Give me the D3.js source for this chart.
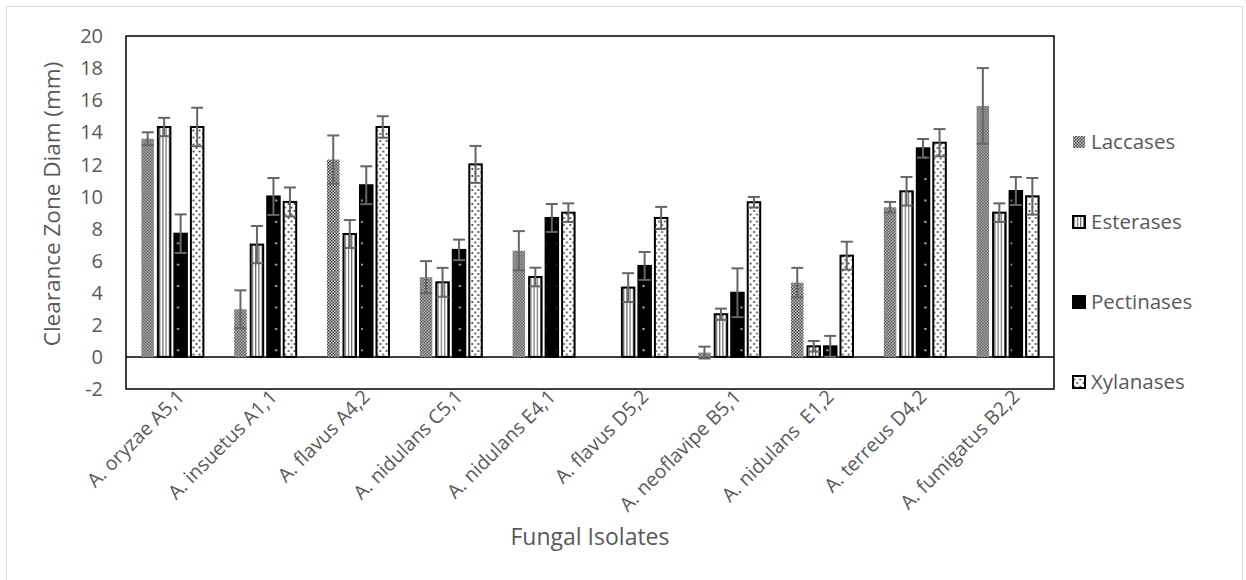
<!DOCTYPE html>
<html><head><meta charset="utf-8">
<script src="https://cdn.jsdelivr.net/npm/d3@7"></script>
<style>
html,body{margin:0;padding:0;background:#fff;}
text{font-family:"Open Sans",sans-serif;fill:#595959;}
</style></head>
<body>
<svg id="chart" width="1246" height="580"></svg>
<script>
const categories = ["A. oryzae A5,1","A. insuetus A1,1","A. flavus A4,2","A. nidulans C5,1","A. nidulans E4,1","A. flavus D5,2","A. neoflavipe B5,1","A. nidulans  E1,2","A. terreus D4,2","A. fumigatus B2,2"];
const seriesNames = ["Laccases","Esterases","Pectinases","Xylanases"];
const laccases   = [13.6, 2.97, 12.3, 4.97, 6.62, 0, 0.27, 4.63, 9.33, 15.64];
const esterases  = [14.33, 7.0, 7.66, 4.65, 4.98, 4.32, 2.66, 0.66, 10.32, 8.99];
const pectinases = [7.68, 10.0, 10.7, 6.67, 8.66, 5.67, 4.0, 0.66, 13.0, 10.34];
const xylanases  = [14.33, 9.66, 14.33, 12.0, 8.99, 8.66, 9.64, 6.31, 13.35, 10.01];
const errLaccases   = [0.4, 1.18, 1.5, 1.0, 1.22, 0, 0.37, 0.92, 0.33, 2.36];
const errEsterases  = [0.57, 1.16, 0.87, 0.9, 0.58, 0.9, 0.35, 0.33, 0.89, 0.58];
const errPectinases = [1.2, 1.15, 1.18, 0.64, 0.87, 0.87, 1.52, 0.65, 0.58, 0.87];
const errXylanases  = [1.2, 0.9, 0.67, 1.15, 0.58, 0.69, 0.33, 0.87, 0.85, 1.14];
const yTicks = [-2,0,2,4,6,8,10,12,14,16,18,20];

const values = [laccases, esterases, pectinases, xylanases];
const errors = [errLaccases, errEsterases, errPectinases, errXylanases];

const svg = d3.select("#chart");
const defs = svg.append("defs");

// chart area border
svg.append("rect").attr("x",6.5).attr("y",6.5).attr("width",1236).attr("height",580)
  .attr("fill","#fff").attr("stroke","#d9d9d9").attr("stroke-width",1);

const plot = {left:126, right:1054, top:36, bottom:389};
const y = d3.scaleLinear().domain([-2,20]).range([plot.bottom, plot.top]);
const x0 = d3.scaleBand().domain(categories).range([plot.left, plot.right]).padding(0);
const slot = 16.5;
const x1 = d3.scaleBand().domain(seriesNames).range([-2*slot, 2*slot]).padding(0);
const barW = 12.5;

// patterns
function lacPattern(id){
  const p = defs.append("pattern").attr("id",id).attr("patternUnits","userSpaceOnUse").attr("width",3).attr("height",3);
  p.append("rect").attr("width",3).attr("height",3).attr("fill","#c4c4c4");
  p.append("rect").attr("x",0).attr("y",0).attr("width",1.5).attr("height",1.5).attr("fill","#4a4a4a");
  p.append("rect").attr("x",1.5).attr("y",1.5).attr("width",1.5).attr("height",1.5).attr("fill","#4a4a4a");
}
lacPattern("lac");
function estPattern(id, x){
  const p = defs.append("pattern").attr("id",id).attr("patternUnits","userSpaceOnUse").attr("x",x).attr("width",3.2).attr("height",10);
  p.append("rect").attr("width",3.2).attr("height",10).attr("fill","#fff");
  p.append("rect").attr("x",1.6).attr("width",1.2).attr("height",10).attr("fill","#6e6e6e");
}
function pecPattern(id, x){
  const p = defs.append("pattern").attr("id",id).attr("patternUnits","userSpaceOnUse").attr("x",x).attr("y",plot.bottom-32+4).attr("width",barW).attr("height",21.4);
  p.append("rect").attr("width",barW).attr("height",21.4).attr("fill","#000");
  p.append("rect").attr("x",barW/2-1).attr("y",9.7).attr("width",2).attr("height",2).attr("fill","#bbb");
}
function xylPattern(id, x){
  const p = defs.append("pattern").attr("id",id).attr("patternUnits","userSpaceOnUse").attr("x",x).attr("width",barW).attr("height",7);
  p.append("rect").attr("width",barW).attr("height",7).attr("fill","#fff");
  [[2.2,1],[8.2,1],[5.2,4.5],[11.2,4.5]].forEach(([cx,cy])=>{
    p.append("rect").attr("x",cx-0.9).attr("y",cy-0.9).attr("width",1.8).attr("height",1.8).attr("fill","#444");
  });
}

// y tick labels
svg.append("g").selectAll("text").data(yTicks).join("text")
  .attr("x",103).attr("y",d=>y(d)).attr("dy","0.36em").attr("text-anchor","end")
  .style("font-size","20px").text(d=>d);

// zero line
svg.append("line").attr("x1",plot.left).attr("x2",plot.right).attr("y1",y(0)).attr("y2",y(0))
  .attr("stroke","#000").attr("stroke-width",1.5);

// bars
const groups = svg.append("g").selectAll("g").data(categories).join("g")
  .attr("transform",d=>`translate(${x0(d)+x0.bandwidth()/2},0)`);

groups.each(function(cat, ci){
  const g = d3.select(this);
  const cx = x0(cat)+x0.bandwidth()/2;
  seriesNames.forEach((s, si)=>{
    const v = values[si][ci];
    const bx = x1(s) + (slot-barW)/2;
    const absX = cx + bx;
    let fill;
    if (si===0) fill = "url(#lac)";
    else {
      const id = "p"+si+"_"+ci;
      if (si===1) estPattern(id, absX);
      if (si===2) pecPattern(id, absX);
      if (si===3) xylPattern(id, absX);
      fill = `url(#${id})`;
    }
    if (v > 0) {
      g.append("rect").attr("x",bx).attr("y",y(v)).attr("width",barW).attr("height",y(0)-y(v))
        .attr("fill",fill).attr("stroke", si===0 ? "none" : "#000").attr("stroke-width",2);
    }
    const e = errors[si][ci];
    if (e > 0) {
      const mx = bx + barW/2;
      const eg = g.append("g").attr("stroke","#666").attr("stroke-width",2);
      eg.append("line").attr("x1",mx).attr("x2",mx).attr("y1",y(v+e)).attr("y2",y(v-e));
      eg.append("line").attr("x1",mx-6).attr("x2",mx+6).attr("y1",y(v+e)).attr("y2",y(v+e));
      eg.append("line").attr("x1",mx-6).attr("x2",mx+6).attr("y1",y(v-e)).attr("y2",y(v-e));
    }
  });
});

// plot border
svg.append("rect").attr("x",plot.left).attr("y",plot.top).attr("width",plot.right-plot.left).attr("height",plot.bottom-plot.top)
  .attr("fill","none").attr("stroke","#000").attr("stroke-width",1.5);

// category labels
svg.append("g").selectAll("text").data(categories).join("text")
  .attr("transform",d=>`translate(${x0(d)+x0.bandwidth()/2+3},${plot.bottom-1}) rotate(-45)`)
  .attr("text-anchor","end").attr("dy","0.74em")
  .style("font-size","19.5px").style("white-space","pre").text(d=>d);

// axis titles
svg.append("text").attr("transform",`translate(52,204) rotate(-90)`)
  .attr("text-anchor","middle").attr("dy","0.35em").style("font-size","22.5px").text("Clearance Zone Diam (mm)");
svg.append("text").attr("x",590).attr("y",537).attr("text-anchor","middle").attr("dy","0.35em")
  .style("font-size","23px").text("Fungal Isolates");

// legend
const legY = [142, 222, 302, 382];
const leg = svg.append("g").selectAll("g").data(seriesNames).join("g")
  .attr("transform",(d,i)=>`translate(1072,${legY[i]})`);
seriesNames.forEach((s,i)=>{
  let fill = "url(#lac)";
  if (i>0){
    const id = "leg"+i;
    if (i===1) estPattern(id, 1072);
    if (i===2) pecPattern(id, 1072);
    if (i===3) xylPattern(id, 1072);
    fill = `url(#${id})`;
  }
  const g = d3.select(leg.nodes()[i]);
  g.append("rect").attr("x",1).attr("y",-6).attr("width",12).attr("height",12)
    .attr("fill",fill).attr("stroke", i===0?"none":"#000").attr("stroke-width",2);
  g.append("text").attr("x",19).attr("y",0).attr("dy","0.35em").style("font-size","20.5px").text(s);
});
</script>
</body></html>
